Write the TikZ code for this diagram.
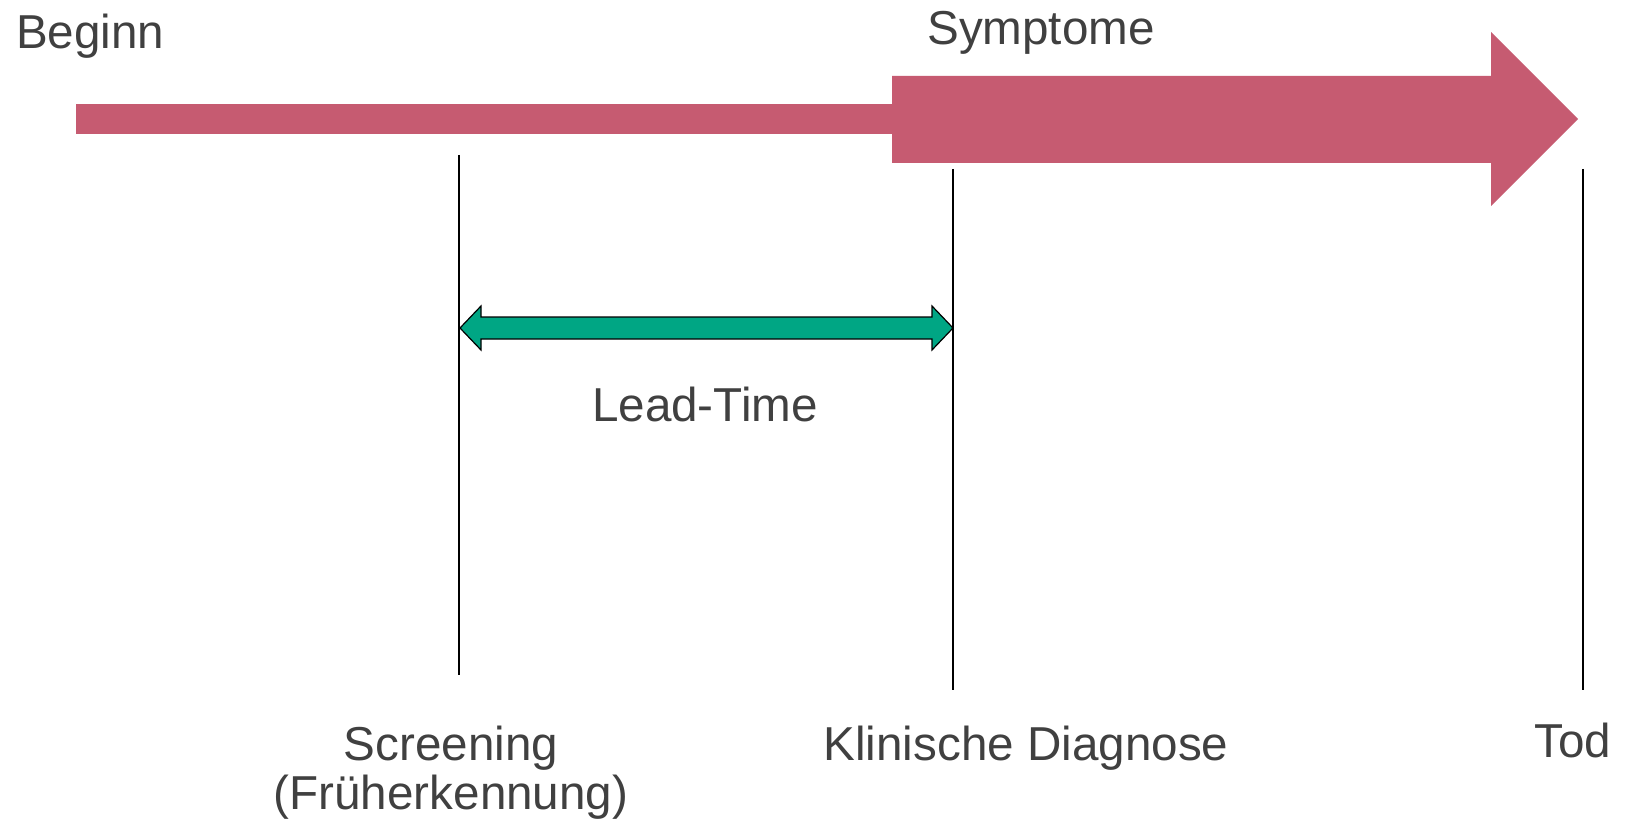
\documentclass[tikz,border=0pt]{standalone}
\usepackage{fontspec}
\setmainfont{Liberation Sans}
\definecolor{txtgrey}{HTML}{404040}
\definecolor{barpink}{HTML}{C65B71}
\definecolor{leadgreen}{HTML}{00A684}
\begin{document}
\begin{tikzpicture}[x=1pt,y=-1pt,
  lbl/.style={inner sep=0pt,anchor=base,text=txtgrey,font=\fontsize{47.6}{55}\selectfont},
  mark line/.style={draw=black,line width=1.5pt}]
\useasboundingbox (0,0) rectangle (1626,821);
% timeline bar and symptom arrow
\fill[barpink] (76,104) rectangle (892,134);
\fill[barpink] (892,76) -- (1491,76) -- (1491,32) -- (1578,119) -- (1491,206) -- (1491,163) -- (892,163) -- cycle;
% vertical marker lines
\coordinate (scrTop) at (459,155);
\coordinate (scrBot) at (459,675);
\coordinate (kliTop) at (953,169);
\coordinate (kliBot) at (953,690);
\coordinate (todTop) at (1583,169);
\coordinate (todBot) at (1583,690);
\draw[mark line] (scrTop) -- (scrBot);
\draw[mark line] (kliTop) -- (kliBot);
\draw[mark line] (todTop) -- (todBot);
% lead-time double arrow
\coordinate (leadL) at (460,328);
\coordinate (leadR) at (953,328);
\filldraw[fill=leadgreen,draw=black,line width=1.2pt,line join=miter]
  (leadL) -- ++(21,-22) -- ++(0,11) -- (932,317) -- ++(0,-11) -- (leadR)
  -- (932,350) -- ++(0,-11) -- (481,339) -- ++(0,11) -- cycle;
% labels
\node[lbl,anchor=base west] (beginn) at (16,49) {Beginn};
\node[lbl] (sympt) at (1041,45) {Symptome};
\node[lbl] (lead) at (705,421) {Lead-Time};
\node[lbl,align=center] (scr) at (451,760) {Screening};
\node[lbl] (frueh) at (451,809) {(Früherkennung)};
\node[lbl] (kli) at (1026,760) {Klinische Diagnose};
\node[lbl] (tod) at (1573,757) {Tod};
\end{tikzpicture}
\end{document}
